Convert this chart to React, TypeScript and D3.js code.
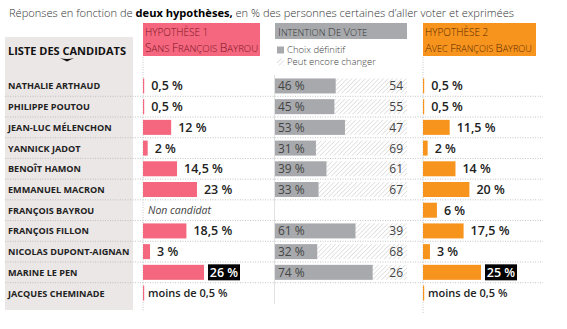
import React from "react";
import * as d3 from "d3";

const candidates = [
  "NATHALIE ARTHAUD",
  "PHILIPPE POUTOU",
  "JEAN-LUC MÉLENCHON",
  "YANNICK JADOT",
  "BENOÎT HAMON",
  "EMMANUEL MACRON",
  "FRANÇOIS BAYROU",
  "FRANÇOIS FILLON",
  "NICOLAS DUPONT-AIGNAN",
  "MARINE LE PEN",
  "JACQUES CHEMINADE",
];
const hyp1 = [0.5, 0.5, 12, 2, 14.5, 23, null, 18.5, 3, 26, 0.4];
const hyp1Labels = ["0,5 %", "0,5 %", "12 %", "2 %", "14,5 %", "23 %", "Non candidat", "18,5 %", "3 %", "26 %", "moins de 0,5 %"];
const hyp2 = [0.5, 0.5, 11.5, 2, 14, 20, 6, 17.5, 3, 25, 0.4];
const hyp2Labels = ["0,5 %", "0,5 %", "11,5 %", "2 %", "14 %", "20 %", "6 %", "17,5 %", "3 %", "25 %", "moins de 0,5 %"];
const definitive = [46, 45, 53, 31, 39, 33, null, 61, 32, 74, null];

const FONT = "'Open Sans', sans-serif";
const PINK = "#f4677e";
const ORANGE = "#f7941d";
const GRAY = "#a7a9ac";

function SmallCaps({ x, y, text, big, small, fill }: { x: number; y: number; text: string; big: number; small: number; fill: string }) {
  const words = text.split(" ");
  return (
    <text x={x} y={y} fontWeight={300} fill={fill}>
      {words.map((w, i) => (
        <React.Fragment key={i}>
          <tspan fontSize={big}>{w[0].toUpperCase()}</tspan>
          <tspan fontSize={small}>{w.slice(1).toUpperCase() + (i < words.length - 1 ? " " : "")}</tspan>
        </React.Fragment>
      ))}
    </text>
  );
}

export default function App() {
  const W = 567, H = 329;
  const y = d3.scalePoint<number>().domain(d3.range(candidates.length)).range([75.6, 303.4]).padding(0.5);
  const bw = 15;
  const step = y.step();
  const x1 = d3.scaleLinear().domain([0, 26]).range([143, 204]);
  const x2 = d3.scaleLinear().domain([0, 25]).range([423, 481]);
  const xi = d3.scaleLinear().domain([0, 100]).range([275, 407]);
  const max1 = d3.max(hyp1.map((v) => v ?? 0))!;
  const max2 = d3.max(hyp2.map((v) => v ?? 0))!;

  const rowCenter = (i: number) => y(i) as number;

  const barLabel = (
    i: number,
    v: number | null,
    lab: string,
    xs: d3.ScaleLinear<number, number>,
    max: number
  ) => {
    const cy = rowCenter(i);
    if (v === null || lab.startsWith("moins")) {
      const italic = lab === "Non candidat";
      return (
        <text
          x={xs(0) + 5}
          y={cy + 4}
          fontSize={italic ? 10.5 : 11}
          fontStyle={italic ? "italic" : "normal"}
          fontWeight={italic ? 400 : 600}
          fill={italic ? "#444" : "#222"}
        >
          {lab}
        </text>
      );
    }
    if (v === max) {
      return (
        <g>
          <rect x={xs(v) + 4} y={cy - 8} width={32} height={16} fill="#000" />
          <text x={xs(v) + 20} y={cy + 4.5} fontSize={12.5} fontWeight={600} fill="#fff" textAnchor="middle">
            {lab}
          </text>
        </g>
      );
    }
    return (
      <text x={xs(v) + 7} y={cy + 4.5} fontSize={12.5} fontWeight={600} fill="#222">
        {lab}
      </text>
    );
  };

  return (
    <svg width={W} height={H} style={{ position: "absolute", left: 0, top: 0, fontFamily: FONT }}>
      <defs>
        <pattern id="hatch" patternUnits="userSpaceOnUse" width={3.2} height={3.2} patternTransform="rotate(45)">
          <line x1={0} y1={0} x2={0} y2={3.2} stroke="#cdcdcd" strokeWidth={1.1} />
        </pattern>
      </defs>
      <rect width={W} height={H} fill="#fff" />
      {/* title */}
      <text x={9} y={16.5} fontSize={11.1} fontWeight={300} fill="#333">
        Réponses en fonction de <tspan fontWeight={700} fill="#000">deux hypothèses,</tspan> en % des personnes certaines d’aller voter et exprimées
      </text>

      {/* left panel */}
      <rect x={5} y={37} width={128} height={273} fill="#ebe7e6" />
      <text x={67} y={55} fontSize={11} fontWeight={700} fill="#111" textAnchor="middle">
        LISTE DES CANDIDATS
      </text>
      <path d="M60,58 Q67,60 74,58 L67,61.5 Z" fill="#111" />

      {/* headers */}
      <rect x={143} y={23} width={117} height={33} fill={PINK} />
      <SmallCaps x={145} y={36} text="Hypothèse 1" big={10} small={10} fill="#7d1426" />
      <SmallCaps x={145} y={52} text="Sans François Bayrou" big={12} small={9.6} fill="#7d1426" />

      <rect x={275} y={23} width={132} height={16} fill={GRAY} />
      <SmallCaps x={278} y={35.5} text="Intention de vote" big={11.5} small={9.3} fill="#333" />
      <rect x={277} y={46.5} width={7} height={7} fill={GRAY} />
      <text x={287} y={53} fontSize={9.5} fontWeight={300} fill="#444">Choix définitif</text>
      <rect x={277} y={58.5} width={7} height={7} fill="url(#hatch)" />
      <text x={287} y={65} fontSize={9.5} fontWeight={300} fill="#444">Peut encore changer</text>

      <rect x={423} y={23} width={113} height={33} fill={ORANGE} />
      <SmallCaps x={425} y={36} text="Hypothèse 2" big={10} small={10} fill="#5a2a00" />
      <SmallCaps x={425} y={52} text="Avec François Bayrou" big={11.4} small={9.1} fill="#5a2a00" />

      {/* grid */}
      {candidates.slice(0, -1).map((_, i) => {
        const yy = rowCenter(i) + step / 2;
        return (
          <line key={"g" + i} x1={5} x2={543} y1={yy} y2={yy} stroke="#b5b5b5" strokeWidth={0.8} strokeDasharray="1,1.5" />
        );
      })}
      <line x1={143} x2={143} y1={57} y2={311} stroke="#b5b5b5" strokeWidth={0.8} strokeDasharray="1,1.5" />
      <line x1={423} x2={423} y1={57} y2={313} stroke="#b5b5b5" strokeWidth={0.8} strokeDasharray="1,1.5" />
      <line x1={274.5} x2={274.5} y1={75} y2={304} stroke="#e2e2e2" strokeWidth={1} />

      {/* names */}
      {candidates.map((c, i) => (
        <text key={"n" + i} x={8} y={rowCenter(i) + 3.5} fontSize={9.1} fontWeight={700} fill="#222">
          {c}
        </text>
      ))}

      {/* hyp1 */}
      {hyp1.map((v, i) =>
        v === null ? null : (
          <rect key={"h1" + i} x={x1(0)} y={rowCenter(i) - bw / 2} width={Math.max(1.2, x1(v) - x1(0))} height={bw} fill={PINK} />
        )
      )}
      {hyp1.map((v, i) => <g key={"l1" + i}>{barLabel(i, v, hyp1Labels[i], x1, max1)}</g>)}

      {/* intention */}
      {definitive.map((v, i) =>
        v === null ? null : (
          <g key={"d" + i}>
            <rect x={xi(v)} y={rowCenter(i) - bw / 2} width={xi(100) - xi(v)} height={bw} fill="url(#hatch)" />
            <rect x={xi(0)} y={rowCenter(i) - bw / 2} width={xi(v) - xi(0)} height={bw} fill={GRAY} />
            <text x={xi(0) + 3} y={rowCenter(i) + 4.5} fontSize={12} fill="#444">{v} %</text>
            <text x={xi(100) - 4} y={rowCenter(i) + 4.5} fontSize={12} fill="#444" textAnchor="end">{100 - v}</text>
          </g>
        )
      )}

      {/* hyp2 */}
      {hyp2.map((v, i) =>
        v === null ? null : (
          <rect key={"h2" + i} x={x2(0)} y={rowCenter(i) - bw / 2} width={Math.max(1.2, x2(v) - x2(0))} height={bw} fill={ORANGE} />
        )
      )}
      {hyp2.map((v, i) => <g key={"l2" + i}>{barLabel(i, v, hyp2Labels[i], x2, max2)}</g>)}
    </svg>
  );
}
